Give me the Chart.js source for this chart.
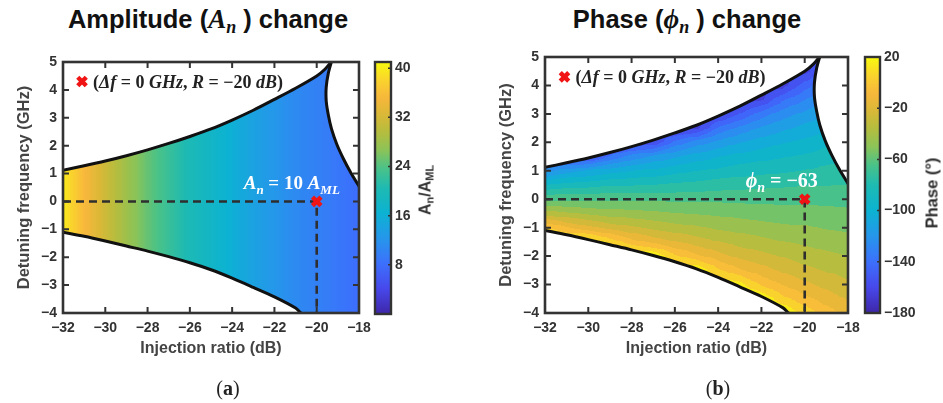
<!DOCTYPE html>
<html>
<head>
<meta charset="utf-8">
<script src="https://cdn.jsdelivr.net/npm/chart.js@4.4.1/dist/chart.umd.min.js"></script>
<style>
  body{margin:0;background:#fff;width:943px;height:403px;overflow:hidden;position:relative;font-family:"Liberation Sans",Arial,sans-serif}
  canvas{position:absolute;top:0}
  .title{position:absolute;top:4px;font-weight:bold;font-size:25.5px;color:#111;white-space:nowrap;transform:translateX(-50%)}
  .m{font-family:"Liberation Serif","DejaVu Serif",serif;font-style:italic;font-weight:bold;font-size:27px}
  .m sub{font-size:18px;vertical-align:-5px}
  .cap{position:absolute;top:377px;font-family:"Liberation Serif",serif;font-size:20px;color:#222;transform:translateX(-50%)}
  .cbl{position:absolute;white-space:nowrap;color:#333;font-size:16px;font-weight:bold;transform:translate(-50%,-50%) rotate(-90deg)}
  .cbl sub{font-size:11px;vertical-align:-3px}
</style>
</head>
<body>
<div class="title" style="left:208px">Amplitude (<span class="m">A<sub>n</sub></span> ) change</div>
<div class="title" style="left:687px">Phase (<span class="m">&#x3D5;<sub>n</sub></span> ) change</div>
<canvas id="ampChart" width="470" height="403" style="left:0"></canvas>
<canvas id="ampBar" width="110" height="403" style="left:360px"></canvas>
<canvas id="phaseChart" width="473" height="403" style="left:470px"></canvas>
<canvas id="phaseBar" width="93" height="403" style="left:850px"></canvas>
<div class="cbl" style="left:426px;top:190px">A<sub>n</sub>/A<sub>ML</sub></div>
<div class="cbl" style="left:932px;top:193px;font-size:16.5px;color:#2a2a2a">Phase (°)</div>
<div class="cap" style="left:228px">(<b>a</b>)</div>
<div class="cap" style="left:718px">(<b>b</b>)</div>
<script>
// injection ratio columns (dB)
const injRatio = [-32, -31, -30, -29, -28, -27, -26, -25, -24, -23, -22, -21, -20, -19, -18];
// A_n / A_ML read along the injection ratio
const ampRatio = [40, 35.5, 31.5, 28, 25, 22.5, 20, 18, 16, 14, 12.5, 11, 10, 9, 8];
// detuning rows (GHz), top to bottom
const detuneRows = [5, 4.5, 4, 3.5, 3, 2.5, 2, 1.5, 1, 0.5, 0, -0.5, -1, -1.5, -2, -2.5, -3, -3.5, -4];
// phase (deg), one row per detuning, columns follow injRatio
const phaseGrid = [
  [-153,-155,-158,-159,-162,-164,-165,-165,-165,-165,-165,-165,-165,-165,-145],
  [-153,-155,-158,-159,-162,-164,-165,-165,-165,-165,-165,-165,-165,-146,-133],
  [-153,-155,-158,-159,-162,-164,-165,-165,-165,-165,-165,-165,-146,-132,-124],
  [-153,-155,-158,-159,-162,-164,-165,-165,-165,-165,-163,-142,-131,-121,-114],
  [-153,-155,-158,-159,-162,-164,-165,-165,-165,-151,-136,-125,-118,-111,-106],
  [-153,-155,-158,-159,-162,-164,-165,-165,-139,-128,-119,-113,-107,-103, -98],
  [-153,-155,-158,-159,-162,-160,-138,-126,-118,-111,-106,-101, -98, -93, -91],
  [-153,-155,-158,-140,-127,-119,-112,-106,-101, -97, -94, -91, -89, -85, -83],
  [-126,-116,-110,-105,-101, -98, -94, -91, -88, -85, -83, -82, -80, -77, -76],
  [ -90, -86, -85, -82, -82, -80, -78, -77, -75, -74, -73, -72, -71, -71, -70],
  [ -63, -63, -63, -63, -63, -63, -63, -63, -63, -63, -63, -63, -63, -63, -63],
  [ -36, -39, -42, -45, -47, -48, -50, -51, -52, -54, -55, -56, -56, -57, -58],
  [   2, -10, -18, -24, -29, -33, -36, -39, -42, -44, -46, -48, -49, -51, -52],
  [  20,  20,  20,   7,  -6, -14, -20, -25, -30, -34, -37, -40, -42, -44, -46],
  [  20,  20,  20,  20,  20,  20,   2,  -8, -16, -23, -27, -31, -35, -38, -40],
  [  20,  20,  20,  20,  20,  20,  20,  20,   2,  -9, -16, -22, -27, -31, -34],
  [  20,  20,  20,  20,  20,  20,  20,  20,  20,  14,  -2, -11, -18, -23, -28],
  [  20,  20,  20,  20,  20,  20,  20,  20,  20,  20,  20,   3,  -7, -15, -21],
  [  20,  20,  20,  20,  20,  20,  20,  20,  20,  20,  20,  20,   7,  -5, -13]
];
// locking range boundaries
const upperX = [-32, -31, -30, -29, -28, -27, -26, -25, -24, -23, -22, -21, -20, -19.6, -19.3];
const upperY = [1.12, 1.28, 1.45, 1.64, 1.85, 2.08, 2.33, 2.6, 2.92, 3.27, 3.66, 4.06, 4.5, 4.75, 5.02];
const rightX = [-19.3, -19.45, -19.55, -19.55, -19.45, -19.3, -19.05, -18.75, -18.4, -18.0, -17.85];
const rightY = [5.02, 4.6, 4.1, 3.6, 3.1, 2.6, 2.05, 1.55, 1.05, 0.55, 0.38];
const lowerX = [-32, -31, -30, -29, -28, -27, -26, -25, -24, -23, -22, -21, -20.75, -20.5];
const lowerY = [-1.1, -1.25, -1.42, -1.6, -1.78, -1.98, -2.2, -2.45, -2.75, -3.08, -3.42, -3.82, -4.0, -4.15];
// operating point and guide
const opPoint = {x: -20, y: 0};
const guideX = [-32, -20, -20];
const guideY = [0, 0, -4];
const legendPoint = {x: -31.1, y: 4.3};
const ampBarRange = [0, 41];
const ampBarTicks = [8, 16, 24, 32, 40];
const phaseBarRange = [-180, 20];
const phaseBarTicks = [-180, -140, -100, -60, -20, 20];

// parula-like colormap
const STOPS = [
  [0.00, [62, 38, 168]], [0.10, [71, 72, 235]], [0.20, [60, 112, 252]], [0.30, [38, 150, 235]],
  [0.40, [12, 178, 210]], [0.50, [30, 186, 178]], [0.58, [75, 194, 135]], [0.65, [140, 195, 88]],
  [0.72, [180, 189, 62]], [0.79, [218, 184, 55]], [0.86, [248, 183, 60]], [0.93, [250, 212, 44]],
  [1.00, [249, 251, 14]]
];
function cmap(t){
  t = Math.max(0, Math.min(1, t));
  for (let i = 1; i < STOPS.length; i++){
    if (t <= STOPS[i][0]){
      const a = STOPS[i-1], b = STOPS[i];
      const f = (t - a[0]) / (b[0] - a[0]);
      const c = a[1].map((v, k) => Math.round(v + (b[1][k] - v) * f));
      return 'rgb(' + c.join(',') + ')';
    }
  }
  return 'rgb(249,251,14)';
}
const minus = v => String(v).replace('-', '\u2212');
const pts = (xs, ys) => xs.map((x, i) => ({x: x, y: ys[i]}));

function regionPath(ctx, xs, ys){
  const p = pts(upperX, upperY).concat(pts(rightX, rightY));
  p.push({x: -17.5, y: rightY[rightY.length-1]});
  p.push({x: -17.5, y: -4.6});
  for (let i = lowerX.length - 1; i >= 0; i--) p.push({x: lowerX[i], y: lowerY[i]});
  p.push({x: -32.5, y: lowerY[0]});
  p.push({x: -32.5, y: upperY[0]});
  ctx.beginPath();
  p.forEach((q, i) => {
    const px = xs.getPixelForValue(q.x), py = ys.getPixelForValue(q.y);
    if (i) ctx.lineTo(px, py); else ctx.moveTo(px, py);
  });
  ctx.closePath();
}

function drawAmp(chart){
  const {ctx, chartArea: a, scales: {x, y}} = chart;
  const N = 12;
  for (let i = 0; i < injRatio.length - 1; i++){
    for (let k = 0; k < N; k++){
      const x0 = injRatio[i] + (injRatio[i+1] - injRatio[i]) * k / N;
      const x1 = injRatio[i] + (injRatio[i+1] - injRatio[i]) * (k + 1) / N;
      const v = ampRatio[i] + (ampRatio[i+1] - ampRatio[i]) * (k + 0.5) / N;
      ctx.fillStyle = cmap((v - ampBarRange[0]) / (ampBarRange[1] - ampBarRange[0]));
      const p0 = Math.floor(x.getPixelForValue(x0)), p1 = Math.ceil(x.getPixelForValue(x1));
      ctx.fillRect(p0, a.top, p1 - p0 + 1, a.bottom - a.top);
    }
  }
}

const bandColors = [];
for (let b = 0; b < 20; b++) bandColors.push(cmap((b + 0.5) / 20));
function drawPhase(chart){
  const {ctx, scales: {x, y}} = chart;
  const N = 16;
  for (let j = 0; j < detuneRows.length - 1; j++){
    for (let i = 0; i < injRatio.length - 1; i++){
      const v00 = phaseGrid[j][i], v01 = phaseGrid[j][i+1];
      const v10 = phaseGrid[j+1][i], v11 = phaseGrid[j+1][i+1];
      for (let a = 0; a < N; a++){
        const xa = injRatio[i] + (injRatio[i+1] - injRatio[i]) * a / N;
        const xb = injRatio[i] + (injRatio[i+1] - injRatio[i]) * (a + 1) / N;
        const px0 = Math.floor(x.getPixelForValue(xa)), px1 = Math.ceil(x.getPixelForValue(xb));
        const u = (a + 0.5) / N;
        for (let b = 0; b < N; b++){
          const w = (b + 0.5) / N;
          const v = (v00 * (1 - u) + v01 * u) * (1 - w) + (v10 * (1 - u) + v11 * u) * w;
          const band = Math.max(0, Math.min(19, Math.floor((v + 180) / 10)));
          const ya = detuneRows[j] + (detuneRows[j+1] - detuneRows[j]) * b / N;
          const yb = detuneRows[j] + (detuneRows[j+1] - detuneRows[j]) * (b + 1) / N;
          const py0 = Math.floor(y.getPixelForValue(ya)), py1 = Math.ceil(y.getPixelForValue(yb));
          ctx.fillStyle = bandColors[band];
          ctx.fillRect(px0, py0, px1 - px0 + 1, py1 - py0 + 1);
        }
      }
    }
  }
}

function richText(ctx, parts, x, y, size, color){
  let cx = x;
  ctx.fillStyle = color;
  ctx.textBaseline = 'alphabetic';
  ctx.textAlign = 'left';
  parts.forEach(([t, sub, upright]) => {
    const fs = sub ? Math.round(size * 0.68) : size;
    ctx.font = (upright ? '' : 'italic ') + 'bold ' + fs + 'px "Liberation Serif", "DejaVu Serif", serif';
    ctx.fillText(t, cx, sub ? y + size * 0.22 : y);
    cx += ctx.measureText(t).width;
  });
}

function heatPlugin(drawFn, label){
  return {
    id: 'heat',
    beforeDatasetsDraw(chart){
      const {ctx, chartArea: a, scales: {x, y}} = chart;
      ctx.save();
      ctx.beginPath();
      ctx.rect(a.left, a.top, a.right - a.left, a.bottom - a.top);
      ctx.clip();
      regionPath(ctx, x, y);
      ctx.clip();
      drawFn(chart);
      ctx.restore();
    },
    afterDatasetsDraw(chart){
      const {ctx, scales: {x, y}} = chart;
      ctx.save();
      const lx = x.getPixelForValue(legendPoint.x), ly = y.getPixelForValue(legendPoint.y);
      richText(ctx, [['(', 0, 1], ['\u0394f', 0, 0], [' = 0 ', 0, 1], ['GHz', 0, 0], [', ', 0, 1], ['R', 0, 0], [' = \u221220 ', 0, 1], ['dB', 0, 0], [')', 0, 1]], lx + 11, ly + 6, 18, '#222');
      const ox = x.getPixelForValue(opPoint.x), oy = y.getPixelForValue(opPoint.y);
      richText(ctx, label.parts, ox + label.dx, oy - 12, label.size, '#fff');
      ctx.restore();
    },
    afterDraw(chart){
      const {ctx, chartArea: a, scales: {x, y}} = chart;
      ctx.save();
      ctx.strokeStyle = '#333';
      ctx.lineWidth = 2;
      ctx.beginPath();
      x.ticks.forEach(t => {
        const p = x.getPixelForValue(t.value);
        ctx.moveTo(p, a.bottom); ctx.lineTo(p, a.bottom - 6);
        ctx.moveTo(p, a.top); ctx.lineTo(p, a.top + 6);
      });
      y.ticks.forEach(t => {
        const p = y.getPixelForValue(t.value);
        ctx.moveTo(a.left, p); ctx.lineTo(a.left + 6, p);
        ctx.moveTo(a.right, p); ctx.lineTo(a.right - 6, p);
      });
      ctx.stroke();
      ctx.lineWidth = 2.6;
      ctx.strokeRect(a.left, a.top, a.right - a.left, a.bottom - a.top);
      ctx.restore();
    }
  };
}

const tickFont = {family: '"Liberation Sans", Arial, sans-serif', size: 14, weight: 'bold'};

function heatConfig(pad){
  const line = (data, extra) => Object.assign({type: 'line', data: data, borderColor: '#111', borderWidth: 3, pointRadius: 0, fill: false, tension: 0.3, clip: 0}, extra || {});
  return {
    type: 'scatter',
    data: {
      datasets: [
        {data: [opPoint], pointStyle: 'crossRot', pointRadius: 6, pointBorderWidth: 4.5, borderColor: '#f01414', backgroundColor: '#f01414'},
        {data: [legendPoint], pointStyle: 'crossRot', pointRadius: 6, pointBorderWidth: 4.5, borderColor: '#f01414', backgroundColor: '#f01414'},
        line(pts(guideX, guideY), {borderColor: '#2e2e2e', borderWidth: 2.6, borderDash: [8, 5], tension: 0}),
        line(pts(upperX, upperY)),
        line(pts(rightX, rightY)),
        line(pts(lowerX, lowerY))
      ]
    },
    options: {
      responsive: false,
      devicePixelRatio: 1,
      animation: false,
      layout: {padding: pad},
      plugins: {legend: {display: false}, tooltip: {enabled: false}},
      scales: {
        x: {
          type: 'linear', min: -32, max: -18,
          grid: {display: false, drawTicks: false}, border: {display: false},
          ticks: {stepSize: 2, padding: 7, color: '#333', font: tickFont, callback: minus},
          title: {display: true, text: 'Injection ratio (dB)', color: '#444', font: {family: '"Liberation Sans", Arial, sans-serif', size: 16, weight: 'bold'}, padding: {top: 4, bottom: 0}},
          afterFit: s => { s.height = 45; }
        },
        y: {
          type: 'linear', min: -4, max: 5,
          grid: {display: false, drawTicks: false}, border: {display: false},
          ticks: {stepSize: 1, padding: 6, color: '#333', font: tickFont, callback: minus},
          title: {display: true, text: 'Detuning frequency (GHz)', color: '#444', font: {family: '"Liberation Sans", Arial, sans-serif', size: 16.5, weight: 'bold'}, padding: {top: 2, bottom: 4}},
          afterFit: s => { s.width = 50; }
        }
      }
    }
  };
}

const ampCfg = heatConfig({left: 13, top: 62, right: 111, bottom: 45});
ampCfg.plugins = [heatPlugin(drawAmp, {dx: -73, size: 19, parts: [['A', 0, 0], ['n', 1, 0], [' = 10 ', 0, 1], ['A', 0, 0], ['ML', 1, 0]]})];
new Chart(document.getElementById('ampChart'), ampCfg);

const phaseCfg = heatConfig({left: 25, top: 57, right: 95, bottom: 45});
phaseCfg.plugins = [heatPlugin(drawPhase, {dx: -59, size: 20, parts: [['\u03d5', 0, 0], ['n', 1, 0], [' = \u221263', 0, 1]]})];
new Chart(document.getElementById('phaseChart'), phaseCfg);

function barConfig(range, ticks, pad, yWidth){
  return {
    type: 'bar',
    data: {labels: [''], datasets: [{
      data: [range],
      barPercentage: 1, categoryPercentage: 1, borderWidth: 0,
      backgroundColor: c => {
        const {chart} = c;
        const y = chart.scales.y;
        if (!chart.chartArea || !y) return '#888';
        const g = chart.ctx.createLinearGradient(0, y.getPixelForValue(range[0]), 0, y.getPixelForValue(range[1]));
        for (let i = 0; i <= 40; i++) g.addColorStop(i / 40, cmap(i / 40));
        return g;
      }
    }]},
    options: {
      responsive: false, devicePixelRatio: 1, animation: false,
      layout: {padding: pad},
      plugins: {legend: {display: false}, tooltip: {enabled: false}},
      scales: {
        x: {display: false},
        y: {
          position: 'right', min: range[0], max: range[1],
          grid: {display: false, drawTicks: false}, border: {display: false},
          afterBuildTicks: s => { s.ticks = ticks.map(v => ({value: v})); },
          ticks: {padding: 4, color: '#333', font: {family: '"Liberation Sans", Arial, sans-serif', size: 14, weight: 'bold'}, callback: minus},
          afterFit: s => { s.width = yWidth; }
        }
      }
    },
    plugins: [{
      id: 'cbframe',
      afterDraw(chart){
        const {ctx, chartArea: a, scales: {y}} = chart;
        ctx.save();
        ctx.strokeStyle = '#333';
        ctx.lineWidth = 1.5;
        ctx.beginPath();
        ticks.forEach(v => {
          const p = y.getPixelForValue(v);
          ctx.moveTo(a.right - 3, p); ctx.lineTo(a.right, p);
        });
        ctx.stroke();
        ctx.lineWidth = 2.4;
        ctx.strokeRect(a.left, a.top, a.right - a.left, a.bottom - a.top);
        ctx.restore();
      }
    }]
  };
}
new Chart(document.getElementById('ampBar'), barConfig(ampBarRange, ampBarTicks, {left: 15, top: 62, right: 0, bottom: 89}, 79));
new Chart(document.getElementById('phaseBar'), barConfig(phaseBarRange, phaseBarTicks, {left: 15, top: 57, right: 0, bottom: 90}, 63));
</script>
</body>
</html>
